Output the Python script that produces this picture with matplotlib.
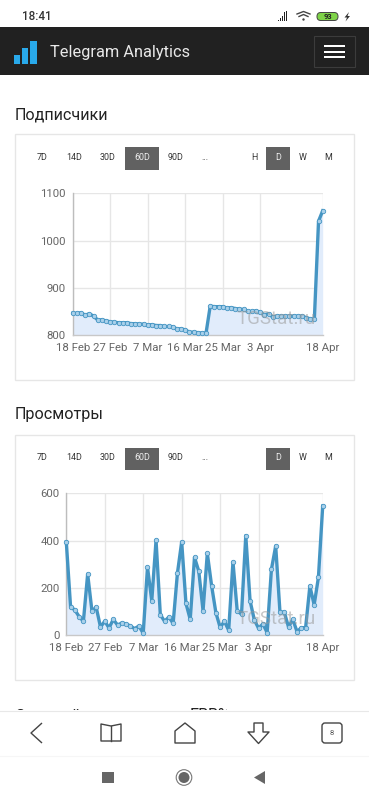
import matplotlib
matplotlib.use('Agg')
import matplotlib.pyplot as plt
from matplotlib.patches import Rectangle, FancyBboxPatch, Circle, Polygon

plt.rcParams['font.family'] = ['Roboto', 'DejaVu Sans']

# data
subscribers = [846, 846, 847, 842, 845, 840, 832, 832, 830, 828, 827, 826, 826, 826, 824, 824,
               823, 823, 821, 822, 820, 820, 818, 818, 817, 813, 813, 811, 806, 806, 805, 804,
               804, 861, 860, 860, 860, 857, 858, 856, 855, 854, 850, 850, 851, 848, 843, 845,
               838, 840, 840, 840, 840, 840, 840, 840, 837, 834, 834, 1041, 1063]
views = [394, 119, 106, 78, 58, 258, 102, 117, 34, 58, 30, 66, 42, 51, 47, 38, 27, 38, 7, 287,
         145, 401, 86, 58, 76, 49, 261, 394, 134, 66, 329, 270, 103, 346, 209, 95, 32, 58, 20,
         309, 102, 88, 421, 145, 64, 28, 47, 10, 278, 377, 97, 97, 34, 66, 14, 31, 31, 207, 128,
         244, 546]
tick_pos = [0, 9, 18, 27, 36, 45, 60]
tick_labels = ['18 Feb', '27 Feb', '7 Mar', '16 Mar', '25 Mar', '3 Apr', '18 Apr']
range_btns = ['7D', '14D', '30D', '60D', '90D', '...']
range_x = [42, 74, 108, 142, 176, 205]
group_btns1 = ['H', 'D', 'W', 'M']
group_x1 = [254, 278, 303, 328]
group_btns2 = ['D', 'W', 'M']
group_x2 = [278, 303, 328]

W, H = 369, 800
LINE = '#4595c3'
MARK = '#a9d0ea'
FILL = '#e1ecfb'
GRID = '#e6e6e6'

fig = plt.figure(figsize=(W / 100, H / 100), dpi=100, facecolor='white')
bg = fig.add_axes([0, 0, 1, 1])
bg.set_xlim(0, W)
bg.set_ylim(H, 0)
bg.axis('off')


def rect(x0, y0, x1, y1, fc='none', ec='none', lw=1, z=1):
    bg.add_patch(Rectangle((x0, y0), x1 - x0, y1 - y0, facecolor=fc, edgecolor=ec, linewidth=lw, zorder=z))


def poly(pts, ec='#444444', lw=1.0, fc='none', closed=True, z=5):
    bg.add_patch(Polygon(pts, closed=closed, facecolor=fc, edgecolor=ec, linewidth=lw, joinstyle='round', zorder=z))


def chart_axes(x0, x1, ytop, ybot):
    return fig.add_axes([x0 / W, 1 - ybot / H, (x1 - x0) / W, (ybot - ytop) / H])


def draw_chart(ax, values, ymin, ymax, yticks):
    xs = list(range(len(values)))
    ax.fill_between(xs, values, ymin, color=FILL, lw=0, zorder=1)
    ax.plot(xs, values, color=LINE, lw=2.4, zorder=3, clip_on=False, solid_joinstyle='round')
    ax.plot(xs, values, ls='none', zorder=4, clip_on=False, marker='o', ms=3.2,
            mfc=MARK, mec=LINE, mew=0.6)
    ax.set_xlim(0, 60)
    ax.set_ylim(ymin, ymax)
    ax.set_xticks(tick_pos)
    ax.set_xticklabels(tick_labels)
    ax.set_yticks(yticks)
    ax.grid(True, color=GRID, lw=1)
    ax.set_axisbelow(True)
    ax.tick_params(length=0, labelsize=8.2, labelcolor='#666666', pad=6)
    ax.tick_params(axis='y', pad=5)
    for s in ['top', 'right']:
        ax.spines[s].set_visible(False)
    ax.spines['left'].set_color('#bdbdbd')
    ax.spines['left'].set_linewidth(1)
    ax.spines['bottom'].set_color('#c8c8c8')
    ax.spines['bottom'].set_linewidth(1)
    ax.patch.set_alpha(0)


def buttons(y, top, bot, groups, gx, active):
    rect(125, top, 159, bot, fc='#616161', z=2)
    rect(266, top, 290, bot, fc='#616161', z=2)
    for lab, x in zip(range_btns, range_x):
        c = '#eeeeee' if lab == '60D' else '#333333'
        bg.text(x, y, lab, fontsize=6.4, color=c, ha='center', va='center', zorder=3)
    for lab, x in zip(groups, gx):
        c = '#eeeeee' if lab == active else '#333333'
        bg.text(x, y, lab, fontsize=6.4, color=c, ha='center', va='center', zorder=3)


# status bar
bg.text(22, 17, '18:41', fontsize=8.4, color='#333333', ha='left', va='center', weight='medium')
for i, h in enumerate([1.5, 3, 5, 9, 10]):
    rect(278 + i * 2, 21 - h, 279.4 + i * 2, 21, fc='#222222')
bg.plot([297, 303.5, 310], [14, 11.5, 14], color='#444444', lw=1.0)
bg.plot([299, 303.5, 308], [16.5, 14.5, 16.5], color='#444444', lw=1.0)
bg.add_patch(Circle((303.5, 19.5), 1.2, fc='#444444', ec='none'))
bg.add_patch(FancyBboxPatch((317, 12.5), 21, 8, boxstyle='round,pad=0,rounding_size=3.8',
                            fc='#7ed348', ec='#444444', lw=0.7))
bg.text(327.5, 16.7, '93', fontsize=5.4, color='#222222', ha='center', va='center', weight='bold')
poly([(349, 12), (344.5, 17.5), (347, 17.5), (345.5, 21.5), (350, 16), (347.5, 16)], fc='#333333', ec='none')

# header
rect(0, 27, W, 75, fc='#212121')
rect(14, 55, 19.5, 63.5, fc='#29a9ea', z=2)
rect(22, 48, 27.5, 63.5, fc='#29a9ea', z=2)
rect(30, 41, 36.5, 63.5, fc='#29a9ea', z=2)
bg.text(50, 52.5, 'Telegram Analytics', fontsize=11.8, color='#e8e8e8', ha='left', va='center', zorder=3)
rect(314, 35.5, 354.5, 66.5, ec='#3c3c3c', lw=0.8, z=2)
for y in [46, 52, 57]:
    rect(324, y - 0.8, 345, y + 0.8, fc='white', z=3)

# first section
bg.text(14.5, 114.5, 'Подписчики', fontsize=11.6, color='#222222', ha='left', va='center')
rect(14.5, 133.5, 354, 380, fc='white', ec='#e6e6e6', lw=1)
buttons(158, 147, 170, group_btns1, group_x1, 'D')
ax1 = chart_axes(72.7, 322.7, 193.3, 335)
draw_chart(ax1, subscribers, 800, 1100, [800, 900, 1000, 1100])

# second section
bg.text(14.5, 414.5, 'Просмотры', fontsize=11.6, color='#222222', ha='left', va='center')
rect(14.5, 434.5, 354, 680, fc='white', ec='#e6e6e6', lw=1)
buttons(458, 448, 470, group_btns2, group_x2, 'D')
ax2 = chart_axes(66.3, 322.7, 493.3, 635)
draw_chart(ax2, views, 0, 600, [0, 200, 400, 600])
for ax in [ax1, ax2]:
    ax.set_zorder(bg.get_zorder() + 1)

# overlay axes for the browser bar, on top of everything
top = fig.add_axes([0, 0, 1, 1])
top.set_xlim(0, W)
top.set_ylim(H, 0)
top.axis('off')
top.set_zorder(5)
top.text(276, 319, 'TGStat.ru', fontsize=13.5, color='#9a9a9a', alpha=0.55, ha='center', va='center')
top.text(276, 619, 'TGStat.ru', fontsize=13.5, color='#9a9a9a', alpha=0.55, ha='center', va='center')
top.text(14.5, 716, 'Средний', fontsize=11.6, color='#222222', ha='left', va='center')
top.text(190, 716, 'ERR%', fontsize=11.6, color='#222222', ha='left', va='center')
top.add_patch(Rectangle((0, 710), W, 90, fc='white', ec='none', zorder=3))
top.plot([0, W], [710.5, 710.5], color='#e8e8e8', lw=0.8, zorder=4)
top.plot([0, W], [755.5, 755.5], color='#f6f6f6', lw=0.8, zorder=4)


def tpoly(pts, fc='none', ec='#444444', lw=1.0, closed=True):
    top.add_patch(Polygon(pts, closed=closed, facecolor=fc, edgecolor=ec, linewidth=lw, joinstyle='round', zorder=5))


tpoly([(42, 723), (31, 733), (42, 743)], closed=False)
tpoly([(101, 724), (111, 726), (121, 724), (121, 741), (111, 741), (101, 741)])
top.plot([111, 111], [726, 741], color='#444444', lw=1.0, zorder=5)
tpoly([(185, 723), (195, 731), (195, 743), (175, 743), (175, 731)])
tpoly([(254, 723), (263, 723), (263, 732), (269, 732), (258.5, 743.5), (248, 732), (254, 732)])
top.add_patch(FancyBboxPatch((322, 723), 20, 20, boxstyle='round,pad=0,rounding_size=3',
                             fc='none', ec='#444444', lw=1.0, zorder=5))
top.text(332, 733, '8', fontsize=5.5, color='#555555', ha='center', va='center', zorder=5)
top.add_patch(Rectangle((102, 772), 11.5, 11, fc='#666666', ec='none', zorder=5))
top.add_patch(Circle((184, 777.5), 5.5, fc='#666666', ec='none', zorder=5))
top.add_patch(Circle((184, 777.5), 7.8, fc='none', ec='#777777', lw=0.8, zorder=5))
tpoly([(254, 777.5), (265, 771), (265, 784)], fc='#666666', ec='none')

fig.savefig('out.png', dpi=100)
